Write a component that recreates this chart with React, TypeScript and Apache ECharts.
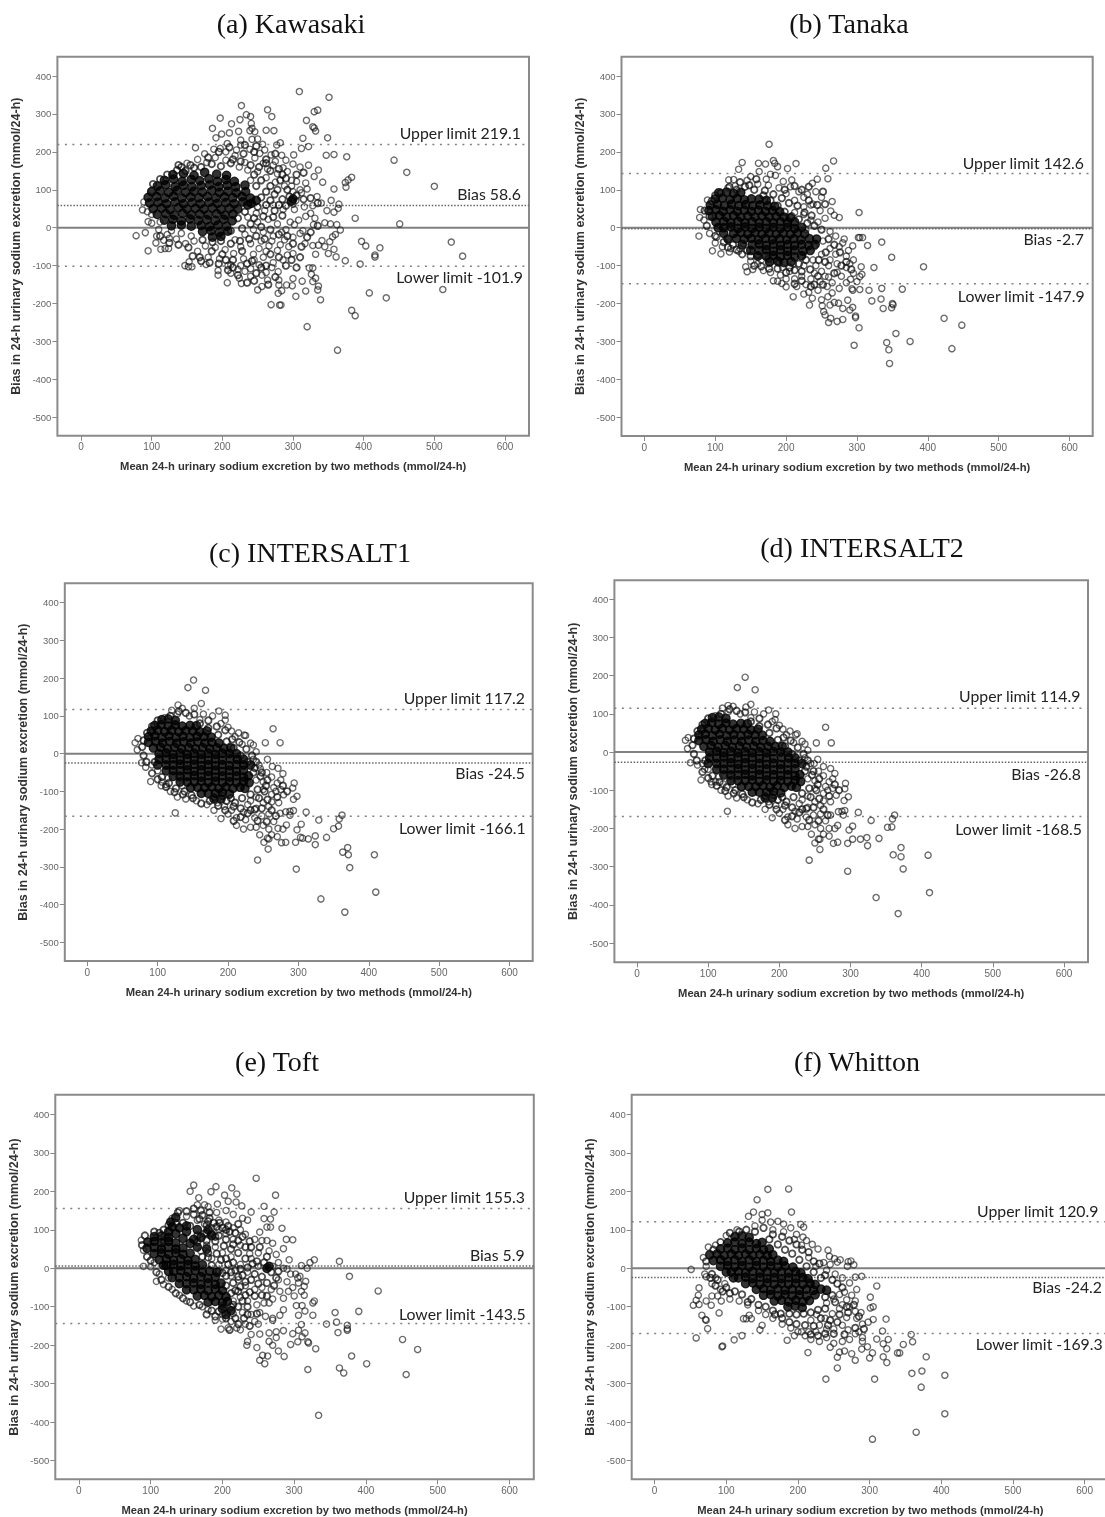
import React, { useEffect, useRef } from "react";
import * as echarts from "echarts";

const xTicks = [0, 100, 200, 300, 400, 500, 600];
const yTicks = [-500, -400, -300, -200, -100, 0, 100, 200, 300, 400];
const xName = "Mean 24-h urinary sodium excretion by two methods (mmol/24-h)";
const yName = "Bias in 24-h urinary sodium excretion (mmol/24-h)";
const titles = ["(a) Kawasaki", "(b) Tanaka", "(c) INTERSALT1", "(d) INTERSALT2", "(e) Toft", "(f) Whitton"];
const upperLimits = [219.1, 142.6, 117.2, 114.9, 155.3, 120.9];
const biases = [58.6, -2.7, -24.5, -26.8, 5.9, -24.2];
const lowerLimits = [-101.9, -147.9, -166.1, -168.5, -143.5, -169.3];

const aSparse = [309,359,351,344,227,322,264,311,330,306,335,310,234,298,240,293,270,293,197,289,225,285,319,283,213,274,241,275,242,262,239,256,186,262,262,257,273,256,328,266,330,263,332,255,210,250,223,254,246,253,191,237,199,247,314,236,349,237,242,233,250,234,226,231,257,220,277,218,282,224,322,214,312,209,162,211,188,207,197,209,207,222,226,218,239,207,253,196,269,192,284,191,301,192,347,191,358,193,376,187,443,178,461,146,500,109,451,10,524,-38,540,-75,512,-163,432,-185,408,-172,383,-218,388,-232,320,-261,363,-323,339,-190,395,-96,423,-53,403,-48,397,-36,416,-72,416,-77,374,-87,361,-77,358,-57,350,-68,388,25,383,133,378,126,374,119,375,107,358,102,342,120,336,152,365,62,354,72,364,51,348,45,358,41,367,-6,360,-18,356,-24,362,8,353,10,345,13,329,8,331,25,325,38,352,-37,345,-50,341,-34,336,-46,328,-47,317,-42,332,-70,323,-106,328,-106,326,-123,332,-133,328,-142,336,-154,335,-164,313,-141,318,-167,304,-181,300,-134,299,-153,291,-151,284,-166,279,-173,281,-204,283,-204,269,-203,280,-151,280,-138,279,-116,250,-164,256,-155,264,-138,207,-145,227,-147,224,-133,212,-120,194,-125,194,-113,147,-100,152,-103,157,-103,177,-97,153,-90,78,-21,91,-13,95,-61,113,-57,119,-55,124,-55,106,-40,117,-33,125,-28,107,-22,89,68,87,47,94,42,95,16,100,98];
const aCloud = [150,170,165,180,178,172,190,185,205,178,218,190,232,172,246,184,258,170,272,165,286,158,300,168,310,160,322,165,330,135,318,118,305,122,292,148,278,142,264,155,250,148,236,152,224,160,240,125,262,132,275,120,288,110,300,95,312,92,320,102,334,82,340,65,328,58,316,55,304,72,296,68,300,62,286,48,272,60,260,45,248,38,236,28,250,15,265,22,278,10,290,-5,302,8,314,-8,300,-25,288,-32,272,-22,258,-12,244,-5,232,-18,218,-32,226,-50,240,-42,252,-55,266,-48,278,-60,292,-72,300,-68,286,-85,272,-92,258,-78,244,-70,230,-82,216,-68,204,-58,190,-52,176,-48,165,-62,180,-78,196,-82,212,-98,226,-100,240,-108,252,-98,262,-118,270,-105,256,-125,240,-128,232,-115,222,-110,208,-100,160,-35,148,-42,135,-30,122,-18,110,-5,128,-8,142,-15,156,-22,100,12,112,15,100,35,275,175,290,178,260,205,220,205,205,200,175,195,298,125,310,100,298,110,302,48,318,30,308,20,296,15,284,-12,270,-35,255,-35,245,-85,262,-62,282,-45,294,-50,310,-15];
const aDense = [142,160,155,165,170,160,185,168,198,162,212,170,226,175,240,165,252,160,268,150,280,155,230,195,245,200,215,180,195,200,180,185,160,158,148,150,136,152,122,140,112,128,102,115,245,140,255,125,268,110,282,125,292,100,248,110,262,95,274,88,285,75,295,82,255,80,268,72,280,60,290,58,250,55,262,60,274,45,285,32,272,28,258,30,245,25,232,42,222,25,212,-8,228,-2,240,10,255,2,268,-5,280,-18,292,-22,248,-22,260,-30,238,-30,225,-35,212,-42,198,-35,186,-38,172,-32,152,-52,138,-45,125,-40,112,-22,168,-78,158,-75,185,-62,200,-70,215,-85,228,-62,242,-88,255,-105,268,-70,280,-78,235,-95,248,-120,262,-100,205,-85,195,-95,182,-92,170,-88,275,-130,265,-150,245,-140,235,-145,222,-125,208,-112,215,-105,290,-100,298,-85,305,-105,310,-78,300,-42,312,-50,320,-25,325,-12,335,5,315,75,305,85,325,78,335,65,290,130,278,100,305,140,315,145,262,170,275,195,248,215,232,218,210,212,262,180,285,140,138,165];
const aCore = [130,140,145,143,160,138,175,146,192,141,206,138,118,125,131,128,143,122,156,127,168,124,181,129,193,122,205,127,217,122,108,110,120,113,133,108,145,112,157,108,170,111,182,113,195,108,207,112,219,108,232,112,100,95,112,97,124,93,136,98,148,93,160,96,172,94,185,98,196,93,208,96,220,92,233,95,95,80,107,82,119,78,131,83,143,78,155,81,167,79,179,82,191,78,203,81,215,79,228,82,240,78,97,65,109,67,121,63,133,68,145,63,157,66,169,63,181,67,193,64,205,66,217,63,229,68,241,64,102,50,114,52,126,48,138,53,150,49,162,51,174,49,186,52,198,48,210,51,222,49,108,35,120,37,132,33,144,38,156,34,168,36,180,34,192,37,204,33,215,36,118,20,130,22,142,18,154,23,166,19,178,21,190,19,202,22,214,18,128,5,142,7,156,4,170,6,182,3,194,7,206,4,172,-10,184,-8,196,-12,208,-9,186,-25,198,-23,298,70,300,76,248,72,236,60];

const bSparse = [176,220,267,176,256,157,214,169,202,156,259,129,208,126,244,128,237,117,265,69,303,40,263,44,268,33,275,27,302,-26,304,-26,308,-26,335,-38,315,-47,294,-48,349,-78,306,-103,324,-105,394,-103,307,-123,304,-129,291,-136,304,-163,293,-161,317,-165,335,-160,364,-162,321,-193,334,-188,337,-213,349,-211,350,-200,351,-203,423,-239,448,-257,434,-319,375,-300,355,-279,342,-303,345,-322,346,-358,296,-310,303,-264,298,-233,298,-237,294,-210,287,-191,290,-217,280,-242,272,-247,260,-250,263,-239,255,-230,253,-221,251,-206,233,-204,262,-204,268,-197,274,-199,280,-213,210,-182,237,-186,259,-182,138,172,133,154,161,170,171,168,182,177,184,170,188,161,178,141,119,126,126,127,77,-22,96,-61,108,-69,120,-64,133,-62,79,48,78,27,84,20,89,73,143,-103,145,-116,153,-110,168,-113,182,-140,188,-141,200,-156,194,-147];
const bCloud = [150,135,162,148,172,128,185,138,196,122,206,108,218,95,230,88,242,95,250,80,238,62,225,55,248,45,255,25,245,15,262,-10,252,-35,270,-22,282,-30,275,-50,262,-55,288,-60,295,-85,285,-75,272,-95,260,-100,250,-115,285,-105,272,-118,260,-130,248,-142,235,-135,222,-128,228,-150,215,-155,232,-170,245,-165,258,-155,265,-172,250,-190,225,-175,240,-120,205,-115,192,-125,178,-118,212,-135,200,-135,175,-95,160,-95,150,-88,165,-85,135,-55,122,-55,110,-50,100,-40,92,-15,102,-25,118,-30,140,-42,225,80,212,72,200,90,190,105,175,112,160,115,145,125,128,110,118,105,212,40,225,35,235,20,228,-5,240,-50,250,-70,238,-85,225,-100,210,-95,195,-105,285,-145,278,-128,295,-120,300,-142,262,-85,270,-70,280,-40,290,-95,294,-165,275,-160,265,-145,255,-128,242,-100,235,60];
const bDense = [135,120,148,112,158,128,170,98,182,88,194,78,204,65,216,58,226,40,236,32,240,5,230,12,218,22,208,30,198,42,188,58,178,72,168,85,155,100,142,108,130,100,120,108,108,92,232,72,244,60,252,95,255,62,222,100,212,110,198,100,232,108,250,-5,260,-30,268,-45,276,-65,256,-65,246,-85,255,-90,234,-110,222,-115,212,-112,200,-118,188,-108,176,-108,165,-102,155,-100,245,-128,235,-155,222,-140,212,-148,240,-150,252,-150,268,-120,278,-100,285,-90,292,-110,100,-22,112,-38,125,-45,138,-70,150,-75,88,5,92,30,85,45,95,70,100,85,118,-52,130,-58,145,-60,160,-72,175,-82,190,-92,205,-105,218,-95,228,-85];
const bCore = [105,92,116,94,126,90,136,93,100,76,110,78,121,74,131,77,141,73,151,76,162,75,172,72,93,60,103,62,113,58,123,62,133,58,143,61,153,58,163,60,174,58,184,56,91,45,101,47,111,43,121,47,131,43,141,46,151,43,161,46,171,43,181,45,191,42,96,30,106,32,116,28,126,32,136,28,146,31,156,28,166,31,176,28,186,30,197,28,206,26,101,15,112,17,122,13,132,17,142,13,152,16,162,13,172,16,182,13,192,16,202,13,212,15,104,0,112,0,122,2,132,-2,142,2,152,-2,162,1,172,-2,182,1,192,-2,202,1,212,-2,222,1,112,-15,126,-15,136,-13,146,-17,156,-13,166,-17,176,-14,186,-17,196,-14,206,-17,216,-14,226,-16,118,-30,130,-28,141,-30,151,-28,161,-32,171,-28,181,-32,191,-29,201,-32,211,-29,221,-32,233,-29,243,-30,138,-45,152,-45,162,-43,172,-47,182,-43,192,-47,202,-44,212,-47,222,-44,232,-47,241,-44,150,-60,162,-60,172,-58,182,-62,192,-58,202,-62,212,-59,224,-62,234,-60,160,-75,172,-75,182,-73,192,-77,202,-73,212,-77,222,-74,177,-90,188,-88,197,-92,207,-90];

const cSparse = [151,195,143,175,168,168,264,66,253,29,274,29,256,-15,125,-157,90,-74,106,-75,112,-82,68,29,72,40,71,10,77,-24,83,-36,242,-282,297,-306,332,-385,366,-420,410,-367,408,-268,373,-302,371,-268,370,-249,363,-261,362,-163,358,-173,357,-192,350,-199,340,-222,329,-176,324,-218,324,-241,314,-226,311,-155,304,-187,303,-222,306,-224,298,-202,296,-235,282,-235,276,-236,257,-253,251,-235,258,-226,298,-113,293,-121,292,-91,294,-78,279,-109,278,-53,271,-39,263,-34,246,-40,236,23,223,49,288,-153,293,-151,282,-154,274,-158,271,-198,283,-189,288,-163,258,-160,256,-224,152,120,162,133,129,129,187,113,196,102,196,89];
const dSparse = [152,196,141,169,166,163,265,65,252,24,273,24,254,-19,127,-155,90,-73,104,-78,110,-78,121,-83,68,31,72,38,71,9,75,-28,85,-34,95,-45,242,-283,296,-312,336,-381,367,-423,411,-368,409,-270,374,-306,371,-274,371,-250,360,-269,362,-165,359,-175,358,-196,352,-197,340,-226,329,-179,323,-224,324,-245,314,-228,311,-158,303,-194,303,-228,298,-204,296,-239,282,-236,276,-239,257,-255,250,-238,257,-228,297,-117,291,-127,292,-96,293,-82,280,-113,278,-56,272,-43,262,-38,249,-30,236,21,223,45,288,-155,292,-153,283,-156,272,-165,270,-200,282,-192,290,-165,258,-162,255,-228,153,118,160,125,128,122,185,110,195,100,194,85];
const intersaltCloud = [205,60,215,55,225,48,232,28,220,25,240,5,236,-15,244,-30,255,-50,262,-62,270,-78,275,-95,262,-108,250,-95,240,-115,250,-130,262,-128,272,-130,240,-145,228,-135,238,-170,248,-165,225,-175,212,-190,222,-200,232,-195,240,-195,250,-190,258,-200,245,-215,262,-215,270,-220,278,-200,265,-180,212,-170,200,-160,190,-172,180,-150,170,-135,155,-125,140,-120,128,-115,118,-100,105,-85,135,-85,92,-30,100,-45,115,-65,130,-65,128,105,145,100,165,105,178,100,190,80,200,70,210,45,120,115,135,120,160,90,110,95,240,-70,250,-75,232,-125,222,-155,205,-150,195,-140,185,-130,265,-90,268,-100,258,-140,275,-70];
const intersaltDense = [140,108,152,104,172,88,184,72,196,62,206,38,216,30,226,12,234,-5,240,-22,236,-50,246,-60,254,-85,242,-95,232,-108,220,-118,210,-130,198,-125,186,-138,174,-125,162,-132,150,-118,136,-108,124,-102,112,-88,100,-68,92,-52,84,-22,80,-5,78,18,80,35,85,55,92,72,100,88,118,100,130,112,160,80,172,68,186,50,198,32,208,15,218,-5,228,-22,238,-38,248,-50,256,-70,252,-100,244,-118,232,-150,218,-145,208,-140,196,-150,218,-168,208,-178,228,-158,238,-148,248,-145,256,-122,262,-150,270,-115,278,-85,284,-100,268,-165,255,-180,242,-178,148,-110,138,-100,126,-92,116,-78,106,-62,96,-22,180,-115,192,-112,204,-118];
const intersaltCore = [106,90,115,92,125,88,96,75,105,77,115,73,125,76,135,73,146,75,155,74,91,60,100,62,110,58,120,62,130,58,140,61,150,60,160,58,170,60,87,45,96,47,106,43,116,47,126,43,136,46,146,43,156,46,166,45,176,44,87,30,97,32,107,28,117,32,127,28,137,31,147,28,157,31,167,28,177,30,187,28,94,15,104,17,114,13,124,17,134,13,144,16,154,13,164,16,174,13,184,15,194,14,204,15,102,0,112,2,122,-2,132,2,142,-2,152,1,162,-2,172,1,182,-2,192,1,202,0,212,0,102,-15,112,-15,122,-13,132,-17,142,-13,152,-17,162,-14,172,-17,182,-14,192,-17,203,-14,213,-15,222,-15,100,-30,112,-30,122,-30,132,-28,142,-32,152,-28,162,-32,172,-29,182,-32,192,-29,202,-32,212,-29,222,-30,232,-30,112,-45,122,-45,132,-45,142,-43,152,-47,162,-43,172,-47,182,-44,192,-47,202,-44,212,-47,222,-44,122,-60,132,-60,142,-60,152,-58,162,-62,172,-58,182,-62,192,-59,202,-62,212,-59,222,-62,229,-59,132,-75,142,-75,152,-75,162,-73,172,-77,182,-73,192,-77,202,-74,212,-77,222,-74,230,-77,147,-90,157,-90,167,-90,177,-88,187,-92,197,-88,207,-92,217,-89,224,-92,162,-105,172,-105,182,-105,192,-103,202,-107,180,-120,190,-120];

const eSparse = [247,234,274,190,191,212,160,216,155,200,184,199,213,209,203,190,220,193,167,183,208,174,219,172,227,162,258,161,193,167,240,146,272,146,283,104,258,129,267,128,267,107,262,107,252,94,289,75,298,74,285,51,275,36,328,22,322,15,293,22,310,7,318,0,363,18,377,-21,417,-59,390,-112,357,-115,359,-140,345,-145,361,-167,374,-148,374,-157,374,-161,451,-185,472,-211,456,-276,401,-248,380,-228,363,-259,369,-272,319,-263,330,-209,334,-382,286,-229,278,-215,270,-200,259,-248,252,-239,256,-226,263,-228,234,-200,248,-206,252,-171,310,-146,306,-161,315,-168,311,-178,305,-191,295,-198,298,-170,319,-191,320,-194,303,-97,311,-97,306,-122,315,-111,326,-122,326,-90,328,-85,314,-70,310,-60,306,-38,316,-34,314,-47,308,-21,108,-34,90,5,100,4,87,73,90,47];
const eCloud = [165,165,175,165,180,160,192,145,205,150,215,140,228,130,235,125,245,75,255,72,262,72,270,65,265,45,250,40,238,38,225,60,215,75,205,90,195,100,185,105,175,115,165,125,150,135,140,150,130,130,215,105,205,120,195,125,225,100,232,88,240,25,250,5,262,2,270,5,278,15,285,0,295,-15,305,-25,290,-35,278,-30,268,-55,255,-50,245,-55,232,-45,222,-30,212,-20,205,-5,195,10,185,25,170,45,178,60,190,55,200,40,212,30,225,10,235,-10,280,-60,292,-60,300,-72,285,-78,270,-80,258,-90,248,-95,235,-85,225,-75,215,-85,205,-108,215,-118,228,-115,240,-120,252,-115,265,-90,260,-125,270,-130,280,-122,285,-108,245,-138,232,-145,220,-155,208,-155,198,-158,190,-135,200,-132,212,-138,225,-160,240,-172,235,-190,265,-168,275,-180,285,-162,275,-165,160,-98,172,-100,180,-108,150,-85,140,-70,130,-55,118,-42,125,-25,112,-15,105,15,200,-120,250,-145,265,-190,270,-135,298,-50,302,-15,290,-2];
const eDense = [138,145,150,148,160,140,172,138,182,130,196,118,208,110,218,92,228,82,238,70,185,90,195,85,205,75,215,62,175,90,165,85,155,110,145,118,135,118,125,112,118,100,112,92,165,68,178,72,190,70,202,58,212,50,222,40,232,25,242,12,198,22,208,10,218,-5,228,-18,240,-30,250,-40,262,-38,272,-45,180,40,172,30,185,8,195,-8,205,-20,215,-38,225,-48,212,-65,222,-60,232,-70,245,-72,255,-70,200,-98,212,-100,222,-100,235,-100,195,-112,185,-110,178,-120,190,-125,205,-130,218,-130,230,-130,238,-150,222,-145,210,-160,168,-95,155,-88,145,-78,135,-65,125,-48,115,-30,108,-10,100,20,95,30,88,60,92,85,105,95,118,72,258,15,268,-10,278,-8,248,18,240,55,252,55,262,30,275,-25,255,-22,245,-15,262,-72,248,-118,235,-120,215,-95,178,112,188,118,200,105,210,95,222,72,232,55,178,92,190,82,180,28,192,38,205,25,215,15,225,-2,235,2,200,-12,212,-10,222,-22,232,-35,205,-45,218,-58,228,-85,238,-62,168,128,180,122,192,108,205,100,222,115,160,155,170,150,182,145];
const eCore = [105,82,115,84,125,80,135,132,128,120,96,68,105,70,115,66,125,70,135,66,130,108,140,105,150,110,125,95,135,90,95,52,105,54,115,50,125,54,135,50,145,53,150,95,165,100,180,100,145,78,160,75,105,38,115,40,125,36,135,40,145,36,155,39,155,65,170,80,185,85,112,22,122,24,132,20,142,24,152,20,162,23,165,55,178,50,118,8,122,8,132,10,142,6,152,10,162,6,172,9,125,-8,132,-8,142,-6,152,-10,162,-6,172,-10,182,-7,192,-10,130,-24,140,-24,150,-22,160,-26,170,-22,180,-26,190,-23,140,-40,150,-40,160,-38,170,-42,180,-38,190,-42,198,-39,150,-56,160,-56,170,-54,180,-58,190,-54,200,-58,165,-72,175,-70,185,-74,195,-70,205,-74,180,-88,190,-86,200,-90,207,-86,265,5,262,0,200,-105,212,-110,205,-120];

const fSparse = [158,205,187,206,143,178,191,146,138,146,158,144,150,140,131,135,204,114,208,107,207,81,51,-3,54,-96,58,-83,62,-51,61,-70,62,-94,58,-181,66,-122,71,-133,72,-135,74,-157,94,-204,95,-202,111,-186,122,-175,90,-116,79,-96,93,-85,147,-160,150,-148,124,-131,128,-131,135,-131,132,-122,242,47,244,31,251,25,259,22,255,16,270,17,274,19,278,9,269,5,289,-21,280,-23,310,-46,301,-75,301,-103,305,-100,305,-133,323,-132,318,-163,326,-185,310,-184,319,-196,324,-209,347,-198,358,-172,360,-191,342,-220,339,-220,379,-230,359,-273,373,-267,405,-278,372,-309,405,-378,365,-426,304,-444,307,-288,239,-288,255,-259,255,-231,214,-219,300,-233,304,-220,319,-230,324,-245,280,-239,275,-222,265,-215,258,-218,297,-204,289,-210];
const fCloud = [140,110,150,125,162,120,172,122,180,115,190,105,198,88,212,72,220,62,228,50,236,15,245,10,240,-5,252,-15,262,-25,272,-38,282,-55,275,-70,265,-62,280,-85,272,-100,280,-112,268,-128,258,-105,248,-118,238,-130,226,-120,218,-135,230,-148,240,-158,225,-165,215,-165,205,-165,195,-175,185,-187,190,-155,178,-145,165,-130,155,-120,145,-110,130,-95,118,-85,105,-80,92,-55,80,-40,72,-22,72,5,68,28,75,55,85,60,100,85,115,100,225,5,215,28,205,60,195,75,180,95,165,100,250,-80,262,-95,240,-90,262,-148,250,-158,270,-160,280,-170,290,-180,285,-165,272,-185,250,-195,245,-205,262,-190,290,-145,298,-140,288,-115,282,-130,268,-82,258,-68,290,-190,72,-85,80,-72,88,-72,98,-40,85,-25,70,-15,240,-180,230,-190,218,-185,210,-175,200,-165];
const fDense = [128,100,140,95,152,105,165,88,178,82,188,72,198,62,206,48,215,42,222,18,230,12,238,-18,248,-30,255,-40,262,-50,252,-88,238,-105,228,-108,218,-115,208,-118,198,-120,188,-118,176,-118,165,-110,155,-100,145,-95,135,-80,122,-68,112,-60,100,-50,88,-30,80,-15,72,18,82,48,92,68,105,92,118,95,160,75,172,62,182,48,192,38,202,22,212,5,222,-10,232,-25,248,-70,238,-75,268,-100,258,-120,245,-135,232,-130,222,-150,210,-148,198,-145,188,-140,178,-130,168,-120,95,-60,105,-65,85,-45,78,-25,130,-88,242,-148,255,-140,270,-115,278,-95,285,-125,292,-158,280,-155,265,-172,250,-170,238,-170,228,-175,218,-172];
const fCore = [112,82,122,84,132,80,102,66,112,68,122,64,132,68,142,64,150,67,92,50,102,52,112,48,122,52,132,48,142,51,152,48,160,50,77,35,87,37,97,33,107,37,117,33,127,37,137,33,147,36,157,33,165,35,82,20,92,22,102,18,112,22,122,18,132,22,142,18,152,21,162,18,172,21,180,18,92,5,102,7,112,3,122,7,132,3,142,7,152,3,162,6,172,3,182,6,193,3,100,-10,107,-10,117,-8,127,-12,137,-8,147,-12,157,-9,167,-12,177,-9,187,-12,197,-9,204,-12,110,-25,117,-25,127,-23,137,-27,147,-23,157,-27,167,-24,177,-27,187,-24,197,-27,207,-24,214,-27,127,-40,137,-38,147,-42,157,-38,167,-42,177,-39,187,-42,197,-39,207,-42,217,-39,224,-42,142,-55,152,-53,162,-57,172,-53,182,-57,192,-54,202,-57,212,-54,222,-57,232,-54,240,-57,152,-70,162,-68,172,-72,182,-68,192,-72,202,-69,212,-72,224,-69,167,-85,177,-83,187,-87,197,-83,207,-87,216,-84,186,-100,196,-98,206,-102];

const sparseSets = [aSparse, bSparse, cSparse, dSparse, eSparse, fSparse];
const cloudSets = [aCloud, bCloud, intersaltCloud, intersaltCloud, eCloud, fCloud];
const denseSets = [aDense, bDense, intersaltDense, intersaltDense, eDense, fDense];
const coreSets = [aCore, bCore, intersaltCore, intersaltCore, eCore, fCore];

const boxLeft = [57.4, 621.5, 64.8, 614.4, 55.3, 631.7];
const boxRight = [529, 1092.7, 532.7, 1088, 533.8, 1109];
const boxTop = [56.7, 56.7, 583.3, 580.3, 1094.7, 1094.7];
const boxBottom = [435.7, 436, 961, 962.3, 1479.3, 1479.3];
const xZeroPx = [81, 644.4, 87.3, 637, 78.9, 654.6];
const xSixPx = [505, 1069.5, 509.5, 1064, 509.5, 1084.6];
const yTopPx = [76, 76, 602.7, 599.3, 1114.3, 1114.3];
const yLowPx = [417.3, 417.3, 942.3, 943, 1460.7, 1460.7];
const titleX = [291, 849, 310, 862, 277, 857];
const titleY = [25, 25, 554, 549, 1063, 1063];
const upperPos = [[521, 132.7], [1084, 162.7], [525, 697], [1080.4, 695.7], [525, 1196.7], [1098.4, 1210.3]];
const biasPos = [[521, 193.7], [1084, 238], [525, 772.7], [1081, 773.3], [524.6, 1254], [1102, 1286.7]];
const lowerPos = [[523, 276], [1084.6, 295], [525.7, 827], [1082, 828.3], [525.7, 1313.3], [1102.6, 1343.7]];

const pairs = (flat: number[]) => {
  const out: number[][] = [];
  for (let i = 0; i + 1 < flat.length; i += 2) out.push([flat[i], flat[i + 1]]);
  return out;
};

function buildOption() {
  const grid: any[] = [], xAxis: any[] = [], yAxis: any[] = [], series: any[] = [], graphic: any[] = [], title: any[] = [];
  titles.forEach((t, i) => {
    const kx = (xSixPx[i] - xZeroPx[i]) / 600;
    const ky = (yLowPx[i] - yTopPx[i]) / 900;
    const xMin = (boxLeft[i] - xZeroPx[i]) / kx;
    const xMax = (boxRight[i] - xZeroPx[i]) / kx;
    const yMax = 400 + (yTopPx[i] - boxTop[i]) / ky;
    const yMin = -500 - (boxBottom[i] - yLowPx[i]) / ky;
    grid.push({
      show: true, left: boxLeft[i], top: boxTop[i], width: boxRight[i] - boxLeft[i], height: boxBottom[i] - boxTop[i],
      borderColor: "#8a8a8a", borderWidth: 2, backgroundColor: "transparent",
    });
    xAxis.push({
      type: "value", gridIndex: i, position: "bottom", min: xMin, max: xMax, splitLine: { show: false },
      axisLine: { show: false, onZero: false },
      axisTick: { show: true, length: 5, customValues: xTicks, lineStyle: { color: "#888", width: 1 } },
      axisLabel: { customValues: xTicks, color: "#666", fontFamily: "Liberation Sans", fontSize: 10, margin: 6 },
      name: xName, nameLocation: "middle", nameGap: 25,
      nameTextStyle: { fontFamily: "Liberation Sans", fontWeight: "bold", fontSize: 11.2, color: "#333" },
    });
    yAxis.push({
      type: "value", gridIndex: i, position: "left", min: yMin, max: yMax, splitLine: { show: false },
      axisLine: { show: false, onZero: false },
      axisTick: { show: true, length: 5, customValues: yTicks, lineStyle: { color: "#888", width: 1 } },
      axisLabel: { customValues: yTicks, color: "#666", fontFamily: "Liberation Sans", fontSize: 9.5, margin: 6 },
      name: yName, nameLocation: "middle", nameGap: 35,
      nameTextStyle: { fontFamily: "Liberation Sans", fontWeight: "bold", fontSize: 12.5, color: "#333" },
    });
    const line = (v: number, style: any) => ({
      type: "line", xAxisIndex: i, yAxisIndex: i, showSymbol: false, silent: true, z: 1,
      data: [[xMin, v], [xMax, v]], lineStyle: style,
    });
    series.push(line(0, { color: "#808080", width: 2, type: "solid" }));
    series.push(line(biases[i], { color: "#666", width: 1.5, type: [1.5, 1.7] }));
    series.push(line(upperLimits[i], { color: "#808080", width: 1.5, type: [2, 5.5] }));
    series.push(line(lowerLimits[i], { color: "#808080", width: 1.5, type: [2, 5.5] }));
    series.push({
      type: "scatter", xAxisIndex: i, yAxisIndex: i, symbol: "circle", symbolSize: 8.5, silent: true, z: 3,
      data: pairs(coreSets[i]),
      itemStyle: { color: "#000", borderColor: "#000", borderWidth: 1.2 },
    });
    series.push({
      type: "scatter", xAxisIndex: i, yAxisIndex: i, symbol: "circle", symbolSize: 6.5, silent: true, z: 4,
      data: pairs(denseSets[i]),
      itemStyle: { color: "rgba(0,0,0,0)", borderColor: "rgba(10,10,10,0.9)", borderWidth: 1.8 },
    });
    series.push({
      type: "scatter", xAxisIndex: i, yAxisIndex: i, symbol: "circle", symbolSize: 6.2, silent: true, z: 4,
      data: pairs(sparseSets[i]).concat(pairs(cloudSets[i])),
      itemStyle: { color: "rgba(0,0,0,0)", borderColor: "rgba(20,20,20,0.8)", borderWidth: 1.35 },
    });
    title.push({
      text: t, left: titleX[i] - 5, top: titleY[i] - 21, textAlign: "center",
      textStyle: { fontFamily: "Liberation Serif", fontSize: 28, fontWeight: "normal", color: "#111" },
    });
    const note = (text: string, pos: number[]) =>
      graphic.push({
        type: "text", x: pos[0], y: pos[1], z: 10,
        style: { text, fontFamily: "Lato", fontSize: 15.8, fill: "#222", align: "right", verticalAlign: "middle" },
      });
    note("Upper limit " + upperLimits[i].toFixed(1), upperPos[i]);
    note("Bias " + biases[i].toFixed(1), biasPos[i]);
    note("Lower limit " + lowerLimits[i].toFixed(1), lowerPos[i]);
  });
  return { animation: false, backgroundColor: "#fff", title, grid, xAxis, yAxis, series, graphic };
}

export default function App() {
  const ref = useRef<HTMLDivElement>(null);
  useEffect(() => {
    document.body.style.margin = "0";
    const chart = echarts.init(ref.current!, undefined, { renderer: "svg" });
    chart.setOption(buildOption() as any);
    return () => chart.dispose();
  }, []);
  return (
    <div style={{ width: 1105, height: 1517, overflow: "hidden", position: "relative" }}>
      <div ref={ref} style={{ width: 1120, height: 1517, filter: "blur(0.4px)" }} />
    </div>
  );
}
